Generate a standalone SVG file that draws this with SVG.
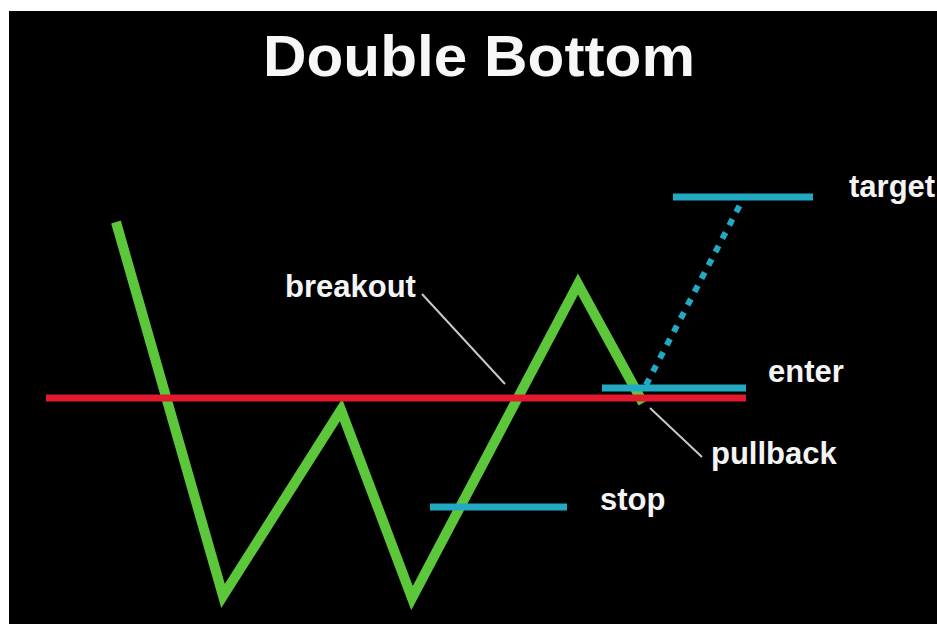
<svg xmlns="http://www.w3.org/2000/svg" width="937" height="624" viewBox="0 0 937 624">
  <style>
    .lbl { font-family: "Liberation Sans", Arial, sans-serif; font-weight: bold; fill: #f4f4f4; font-size: 31px; }
    .title { font-family: "Liberation Sans", Arial, sans-serif; font-weight: bold; fill: #f7f7f7; font-size: 58px; }
    .lvl { stroke: #22a9c4; stroke-width: 7; fill: none; }
    .ptr { stroke: #c8c8c8; stroke-width: 2; fill: none; }
  </style>
  <rect x="0" y="0" width="937" height="624" fill="#ffffff"/>
  <rect x="9" y="11" width="928" height="613" fill="#000000"/>
  <text class="title" x="263" y="76" textLength="432" lengthAdjust="spacingAndGlyphs">Double Bottom</text>

  <g id="price">
    <polyline points="116,222 223,596 341,410 412,598 578,284 643,403" fill="none" stroke="#5cc73a" stroke-width="10" stroke-linejoin="miter" stroke-miterlimit="10"/>
  </g>
  <g id="neckline">
    <line x1="46" y1="398" x2="746" y2="398" stroke="#e3192d" stroke-width="7"/>
  </g>
  <g id="target">
    <line class="lvl" x1="673" y1="197" x2="813" y2="197"/>
    <text class="lbl" x="849" y="197">target</text>
  </g>
  <g id="enter">
    <line class="lvl" x1="602" y1="388" x2="746" y2="388"/>
    <text class="lbl" x="768" y="382">enter</text>
  </g>
  <g id="stop">
    <line class="lvl" x1="430" y1="507" x2="567" y2="507"/>
    <text class="lbl" x="600" y="510">stop</text>
  </g>
  <g id="breakout">
    <text class="lbl" x="285" y="297">breakout</text>
  </g>
  <g id="pullback">
    <text class="lbl" x="711" y="464">pullback</text>
  </g>
  <g id="connectors">
    <line x1="646" y1="385" x2="742" y2="201" stroke="#22a9c4" stroke-width="6" stroke-dasharray="7 8"/>
    <line class="ptr" x1="422" y1="294" x2="505" y2="384"/>
    <line class="ptr" x1="650" y1="408" x2="702" y2="457"/>
  </g>
</svg>
